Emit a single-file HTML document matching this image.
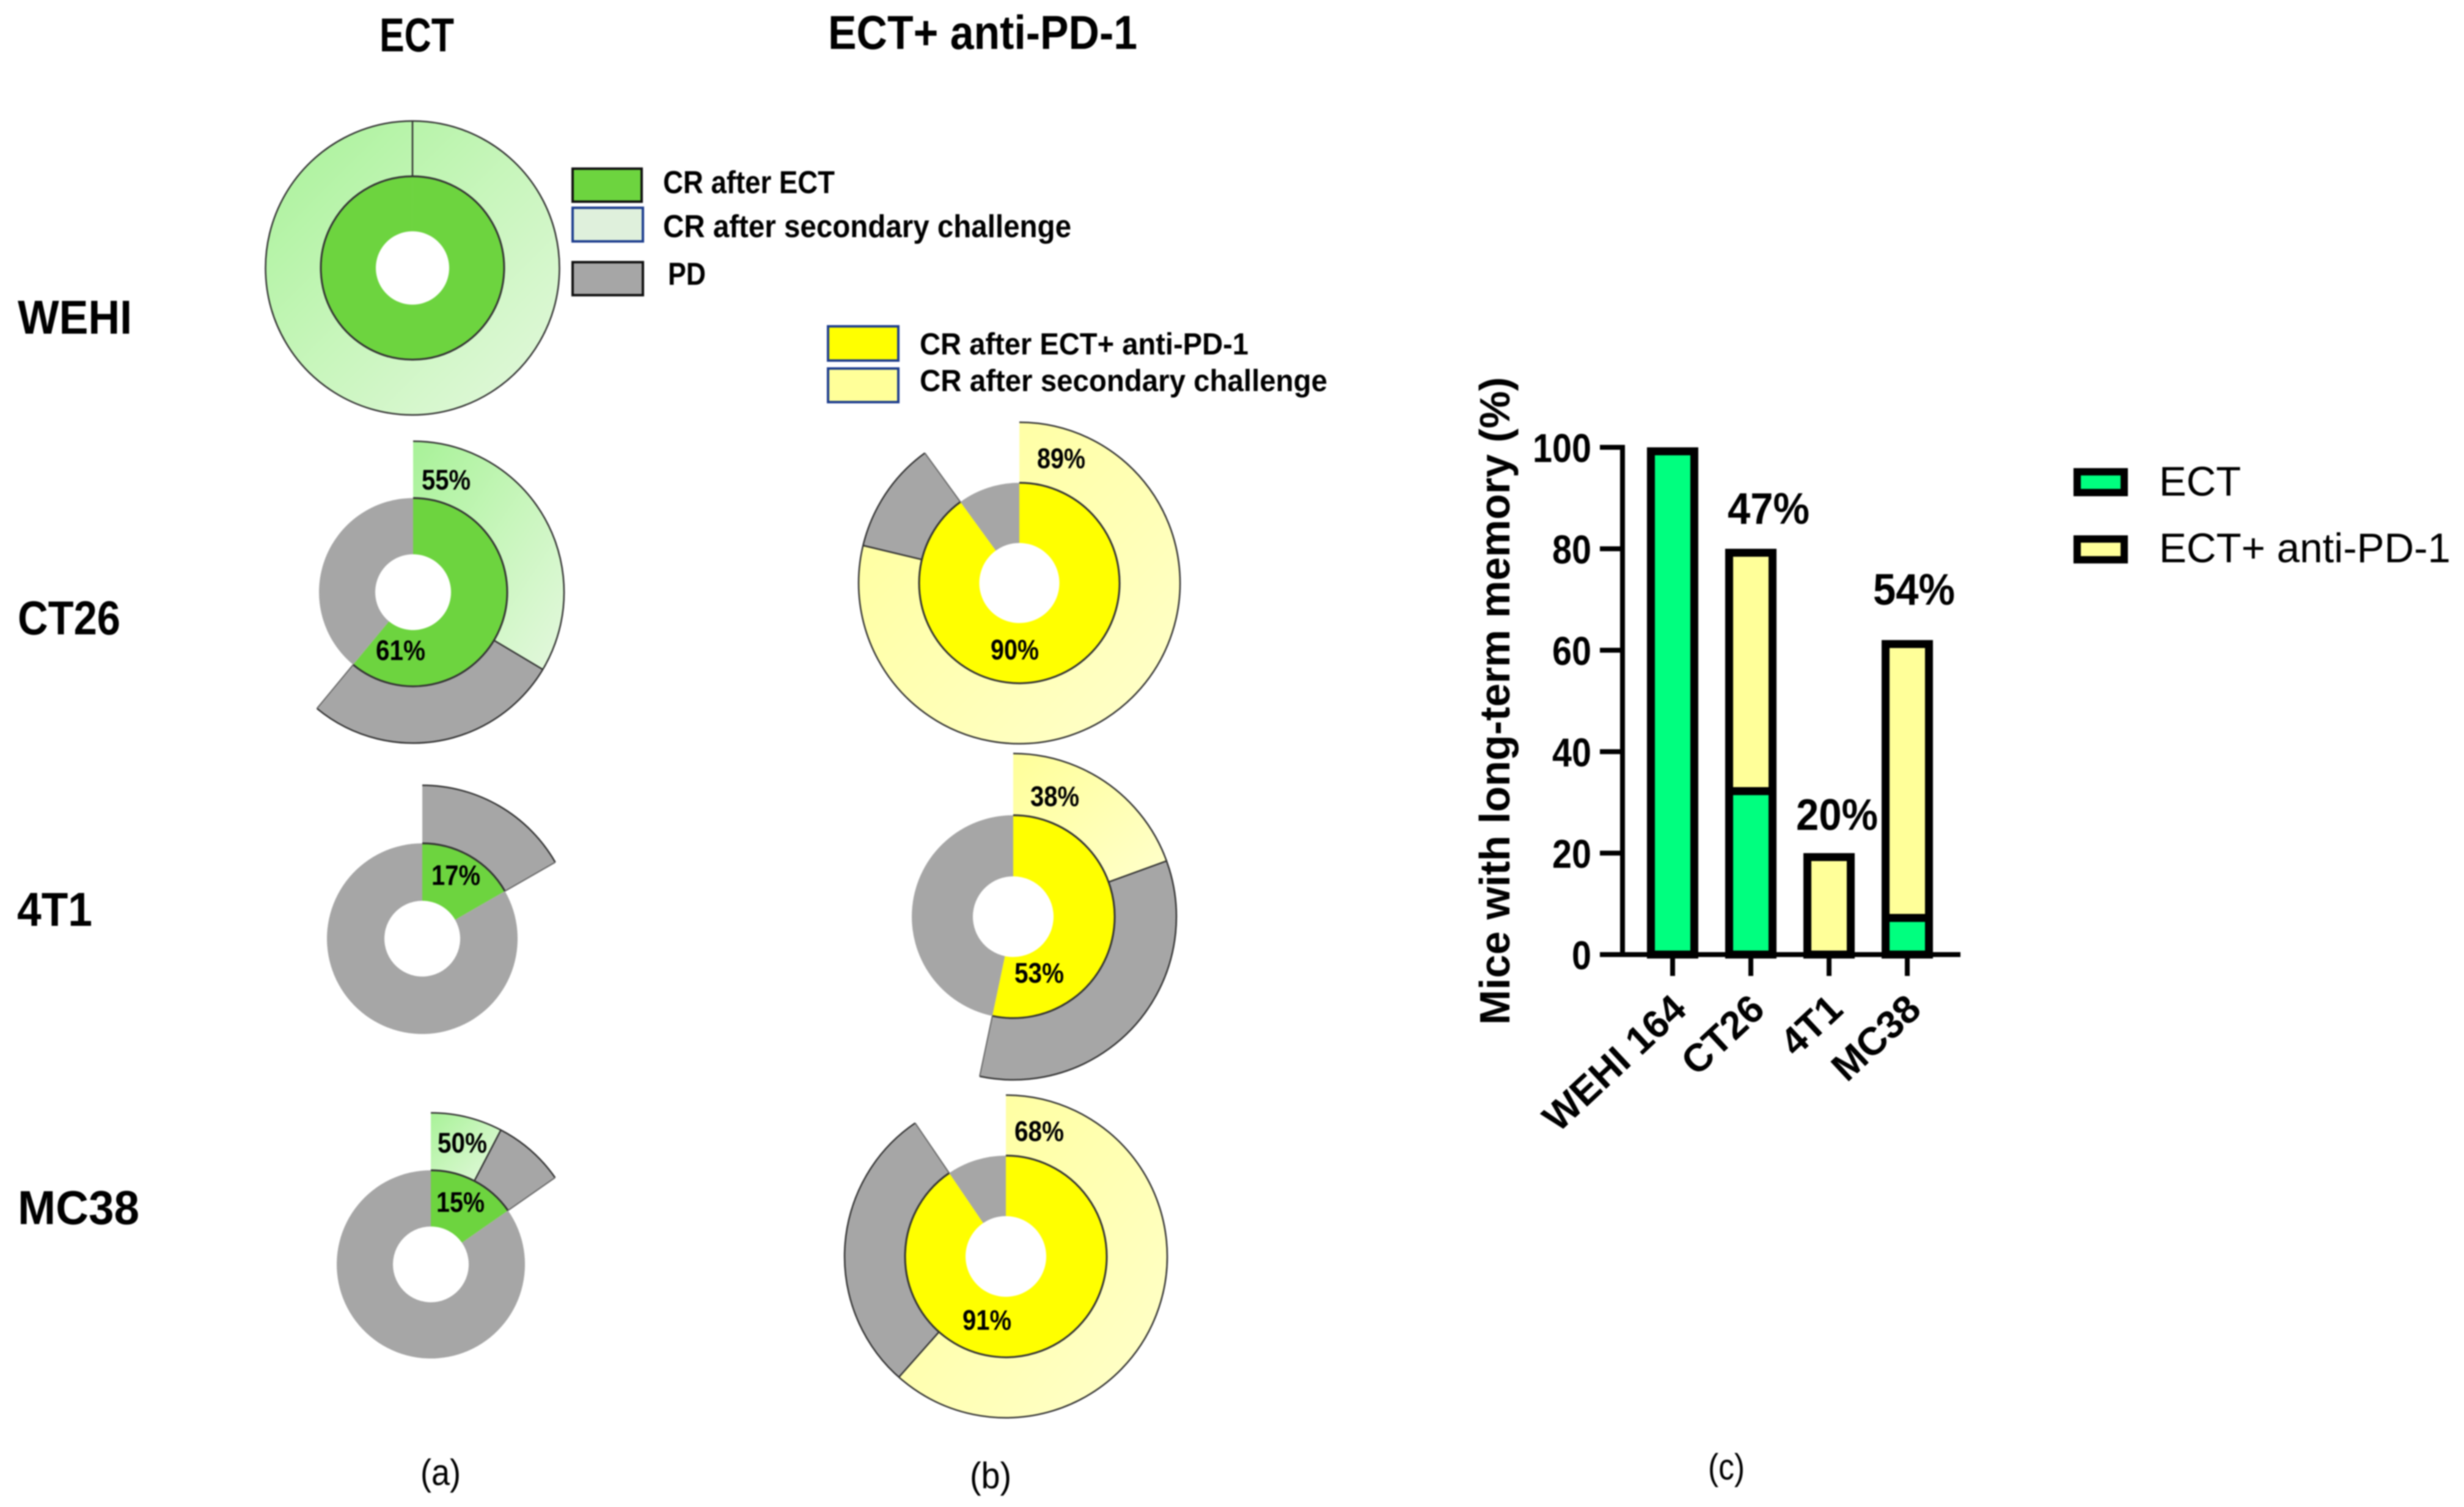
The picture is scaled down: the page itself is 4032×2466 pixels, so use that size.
<!DOCTYPE html>
<html lang="en">
<head>
<meta charset="utf-8">
<title>Response to ECT and ECT + anti-PD-1 with long-term memory</title>
<style>
html,body{margin:0;padding:0;background:#fff;}
svg{display:block;filter:blur(1px);}
text{font-family:"Liberation Sans",Arial,sans-serif;fill:#000;}
.cal{font-weight:bold;}
</style>
</head>
<body>
<svg id="figure" xmlns="http://www.w3.org/2000/svg" width="4032" height="2466" viewBox="0 0 4032 2466">
  <defs>
    <linearGradient id="greenGrad" x1="0" y1="0" x2="1" y2="1">
      <stop offset="0" stop-color="#a8f298"/>
      <stop offset="0.5" stop-color="#c8f6bc"/>
      <stop offset="1" stop-color="#e4f8de"/>
    </linearGradient>
    <linearGradient id="yellowGrad" x1="0" y1="0" x2="1" y2="1">
      <stop offset="0" stop-color="#ffff99"/>
      <stop offset="1" stop-color="#ffffcc"/>
    </linearGradient>
  </defs>
  <rect width="4032" height="2466" fill="#fff"/>

  <text class="cal" x="621" y="84" font-size="78" textLength="122" lengthAdjust="spacingAndGlyphs">ECT</text>
  <text class="cal" x="1355" y="80" font-size="78" textLength="506" lengthAdjust="spacingAndGlyphs">ECT+ anti-PD-1</text>

  <text class="cal" x="29" y="546" font-size="78" textLength="187" lengthAdjust="spacingAndGlyphs">WEHI</text>
  <text class="cal" x="29" y="1038" font-size="78" textLength="168" lengthAdjust="spacingAndGlyphs">CT26</text>
  <text class="cal" x="28" y="1515" font-size="78" textLength="123" lengthAdjust="spacingAndGlyphs">4T1</text>
  <text class="cal" x="29" y="2003" font-size="78" textLength="199" lengthAdjust="spacingAndGlyphs">MC38</text>

  <g>
    <rect x="937" y="276" width="113" height="54" fill="#6dd43f" stroke="#111" stroke-width="4"/>
    <rect x="937" y="340" width="115" height="55" fill="#dff0dc" stroke="#1f3f8f" stroke-width="4"/>
    <rect x="937" y="429" width="115" height="54" fill="#a6a6a6" stroke="#111" stroke-width="4"/>
    <text class="cal" x="1085" y="316" font-size="52" textLength="281" lengthAdjust="spacingAndGlyphs">CR after ECT</text>
    <text class="cal" x="1085" y="388" font-size="52" textLength="668" lengthAdjust="spacingAndGlyphs">CR after secondary challenge</text>
    <text class="cal" x="1093" y="466" font-size="52" textLength="62" lengthAdjust="spacingAndGlyphs">PD</text>
  </g>

  <g>
    <rect x="1355" y="534" width="115" height="56" fill="#ffff00" stroke="#1f3f8f" stroke-width="4"/>
    <rect x="1355" y="603" width="115" height="55" fill="#ffff99" stroke="#1f3f8f" stroke-width="4"/>
    <text class="cal" x="1505" y="580" font-size="50" textLength="538" lengthAdjust="spacingAndGlyphs">CR after ECT+ anti-PD-1</text>
    <text class="cal" x="1505" y="640" font-size="50" textLength="667" lengthAdjust="spacingAndGlyphs">CR after secondary challenge</text>
  </g>

  <g id="donuts"></g>
  <g id="bars"></g>

  <g>
    <rect x="3399" y="772" width="77" height="34" fill="#00ff7f" stroke="#000" stroke-width="12"/>
    <rect x="3399" y="882" width="77" height="34" fill="#ffff99" stroke="#000" stroke-width="12"/>
    <text x="3533" y="811" font-size="68" textLength="134" lengthAdjust="spacingAndGlyphs">ECT</text>
    <text x="3533" y="920" font-size="68" textLength="477" lengthAdjust="spacingAndGlyphs">ECT+ anti-PD-1</text>
  </g>

  <text x="688" y="2430" font-size="60" textLength="66" lengthAdjust="spacingAndGlyphs">(a)</text>
  <text x="1587" y="2435" font-size="60" textLength="68" lengthAdjust="spacingAndGlyphs">(b)</text>
  <text x="2795" y="2421" font-size="60" textLength="60" lengthAdjust="spacingAndGlyphs">(c)</text>
</svg>

<script>
// ----- Donut data (percent of mice) -----
const donutRows = ['wehi', 'ct26', '4t1', 'mc38'];
const ectComplete = [100, 61, 16.7, 15.3];
const ectSecondary = [100, 55, 0, 50];
const ectInnerLabels = ['', '61%', '17%', '15%'];
const ectOuterLabels = ['', '55%', '', '50%'];
const comboRows = ['ct26', '4t1', 'mc38'];
const comboComplete = [90, 53.3, 90.5];
const comboSecondary = [87.5, 36.5, 68];
const comboInnerLabels = ['90%', '53%', '91%'];
const comboOuterLabels = ['89%', '38%', '68%'];

// ----- Bar data -----
const barCategories = ['WEHI 164', 'CT26', '4T1', 'MC38'];
const barEct = [100, 33, 0, 8];
const barCombo = [0, 47, 20, 54];
const barLabels = ['', '47%', '20%', '54%'];
const yTicks = [0, 20, 40, 60, 80, 100];

// ----- Layout (geometry only, separate from the data) -----
const ectLayout = [
  {cx:675, cy:438.5, r0:60, r1:150, r2:240.5},
  {cx:676, cy:969, r0:62, r1:154, r2:247, inner:[615,1080,81], outer:[690,801,80]},
  {cx:691, cy:1536, r0:62, r1:156, r2:251, inner:[706,1448,80]},
  {cx:705, cy:2069, r0:62, r1:154, r2:248, inner:[714,1983,79], outer:[716,1886,81]}
];
const comboLayout = [
  {cx:1668, cy:954, r0:65.5, r1:164, r2:263, inner:[1621,1079,79], outer:[1697,766,79]},
  {cx:1658, cy:1500, r0:66, r1:166, r2:267, inner:[1660,1608,81], outer:[1686,1319,80]},
  {cx:1646, cy:2056, r0:66, r1:165, r2:264, inner:[1575,2176,80], outer:[1660,1867,81]}
];
const barLabelNudge = [[0,0],[29,-41],[13,-38],[11,-58]];

const SVG_NS = 'http://www.w3.org/2000/svg';
const GRAY = '#a6a6a6';
const LINE = '#333333';

function make(tag, parent) {
  const el = document.createElementNS(SVG_NS, tag);
  parent.appendChild(el);
  return el;
}
function polar(cx, cy, r, deg) {
  const t = deg * Math.PI / 180;
  return [cx + r * Math.sin(t), cy - r * Math.cos(t)];
}
function arcTo(cx, cy, r, a0, a1, sweep) {
  const end = polar(cx, cy, r, a1);
  const large = Math.abs(a1 - a0) > 180 ? 1 : 0;
  return 'A' + r + ' ' + r + ' 0 ' + large + ' ' + sweep + ' ' + end[0].toFixed(2) + ' ' + end[1].toFixed(2);
}
function sectorPath(g, r0, r1, a0, a1) {
  const stop = Math.min(a1, a0 + 359.99);
  const p0 = polar(g.cx, g.cy, r1, a0);
  const p1 = polar(g.cx, g.cy, r0, stop);
  return 'M' + p0[0].toFixed(2) + ' ' + p0[1].toFixed(2) +
    arcTo(g.cx, g.cy, r1, a0, stop, 1) +
    'L' + p1[0].toFixed(2) + ' ' + p1[1].toFixed(2) +
    arcTo(g.cx, g.cy, r0, stop, a0, 0) + 'Z';
}
function arcPath(g, r, a0, a1) {
  const stop = Math.min(a1, a0 + 359.99);
  const p0 = polar(g.cx, g.cy, r, a0);
  return 'M' + p0[0].toFixed(2) + ' ' + p0[1].toFixed(2) + arcTo(g.cx, g.cy, r, a0, stop, 1);
}
function radialPath(g, r0, r1, a) {
  const p0 = polar(g.cx, g.cy, r0, a);
  const p1 = polar(g.cx, g.cy, r1, a);
  return 'M' + p0[0].toFixed(2) + ' ' + p0[1].toFixed(2) + 'L' + p1[0].toFixed(2) + ' ' + p1[1].toFixed(2);
}
function fillSector(parent, g, r0, r1, a0, a1, fill, name) {
  const el = make('path', parent);
  el.setAttribute('d', sectorPath(g, r0, r1, a0, a1));
  el.setAttribute('fill', fill);
  
  
}
function strokeLine(parent, d, width, color) {
  const el = make('path', parent);
  el.setAttribute('d', d);
  el.setAttribute('fill', 'none');
  el.setAttribute('stroke', color);
  el.setAttribute('stroke-width', width);
  
  
}
function percentLabel(parent, str, spec, name) {
  if (!str || !spec) return;
  const el = make('text', parent);
  el.textContent = str;
  el.setAttribute('class', 'cal');
  el.setAttribute('x', spec[0]);
  el.setAttribute('y', spec[1]);
  el.setAttribute('font-size', 46);
  el.setAttribute('textLength', spec[2]);
  el.setAttribute('lengthAdjust', 'spacingAndGlyphs');
  
  
}
function drawDonut(root, prefix, g, complete, secondary, innerLabel, outerLabel, crColor, gradient) {
  const group = make('g', root);
  
  
  const crEnd = complete * 3.6;
  const secEnd = crEnd * secondary / 100;
  // inner ring
  fillSector(group, g, g.r0, g.r1, 0, crEnd, crColor, prefix + '-inner-cr');
  if (complete < 100) fillSector(group, g, g.r0, g.r1, crEnd, 360, GRAY, prefix + '-inner-pd');
  // outer ring
  if (secondary > 0) fillSector(group, g, g.r1, g.r2, 0, secEnd, gradient, prefix + '-outer-secondary');
  if (secondary < 100) fillSector(group, g, g.r1, g.r2, secEnd, crEnd, GRAY, prefix + '-outer-pd');
  // outlines
  strokeLine(group, arcPath(g, g.r1, 0, crEnd), 3, LINE);
  strokeLine(group, arcPath(g, g.r2, 0, crEnd), 2.5, LINE);
  if (secondary > 0) strokeLine(group, radialPath(g, g.r1, g.r2, secEnd), 2.5, LINE);
  if (complete < 100 && secondary < 100) strokeLine(group, radialPath(g, g.r1, g.r2, crEnd), 2, '#666');
  percentLabel(group, innerLabel, g.inner, prefix + '-inner-value');
  percentLabel(group, outerLabel, g.outer, prefix + '-outer-value');
}

const donutRoot = document.getElementById('donuts');
donutRows.forEach(function (row, i) {
  drawDonut(donutRoot, 'ect-' + row, ectLayout[i], ectComplete[i], ectSecondary[i],
    ectInnerLabels[i], ectOuterLabels[i], '#6dd43f', 'url(#greenGrad)');
});
comboRows.forEach(function (row, i) {
  drawDonut(donutRoot, 'combo-' + row, comboLayout[i], comboComplete[i], comboSecondary[i],
    comboInnerLabels[i], comboOuterLabels[i], '#ffff00', 'url(#yellowGrad)');
});

// ----- Bar chart -----
const Y_ZERO = 1562;
const Y_PER_UNIT = 8.3;
const X_FIRST = 2737;
const X_STEP = 128;
const BAR_OUTER = 84;
const BAR_STROKE = 13;
function yScale(v) { return Y_ZERO - v * Y_PER_UNIT; }
function xScale(i) { return X_FIRST + i * X_STEP; }

const barRoot = document.getElementById('bars');

function barSegment(i, base, top, fill, name) {
  if (top <= base) return;
  const el = make('rect', barRoot);
  const yTop = yScale(top) + BAR_STROKE / 2;
  const yBottom = base > 0 ? yScale(base) + BAR_STROKE / 2 : yScale(0);
  el.setAttribute('x', xScale(i) - BAR_OUTER / 2 + BAR_STROKE / 2);
  el.setAttribute('y', yTop);
  el.setAttribute('width', BAR_OUTER - BAR_STROKE);
  el.setAttribute('height', yBottom - yTop);
  el.setAttribute('fill', fill);
  el.setAttribute('stroke', '#000');
  el.setAttribute('stroke-width', BAR_STROKE);
  
  
}

barCategories.forEach(function (cat, i) {
  const key = cat.toLowerCase().replace(/\s+/g, '-');
  barSegment(i, barEct[i], barEct[i] + barCombo[i], '#ffff99', 'bar-' + key + '-ect-anti-pd1');
  barSegment(i, 0, barEct[i], '#00ff7f', 'bar-' + key + '-ect');
});

// axes
const yAxis = make('line', barRoot);
yAxis.setAttribute('x1', 2655);
yAxis.setAttribute('x2', 2655);
yAxis.setAttribute('y1', yScale(100) - 4);
yAxis.setAttribute('y2', yScale(0) + 4);
yAxis.setAttribute('stroke', '#000');
yAxis.setAttribute('stroke-width', 8);



const xAxis = make('line', barRoot);
xAxis.setAttribute('x1', 2618);
xAxis.setAttribute('x2', 3208);
xAxis.setAttribute('y1', yScale(0));
xAxis.setAttribute('y2', yScale(0));
xAxis.setAttribute('stroke', '#000');
xAxis.setAttribute('stroke-width', 8);



yTicks.forEach(function (v) {
  const tick = make('line', barRoot);
  tick.setAttribute('x1', 2618);
  tick.setAttribute('x2', 2655);
  tick.setAttribute('y1', yScale(v));
  tick.setAttribute('y2', yScale(v));
  tick.setAttribute('stroke', '#000');
  tick.setAttribute('stroke-width', 8);
  
  

  const label = make('text', barRoot);
  label.textContent = String(v);
  label.setAttribute('x', 2604);
  label.setAttribute('y', yScale(v) + 24);
  label.setAttribute('text-anchor', 'end');
  label.setAttribute('font-size', 66);
  label.setAttribute('font-weight', 'bold');
  label.setAttribute('textLength', String(v).length * 32);
  label.setAttribute('lengthAdjust', 'spacingAndGlyphs');
  
  
});

barCategories.forEach(function (cat, i) {
  const key = cat.toLowerCase().replace(/\s+/g, '-');
  const tick = make('line', barRoot);
  tick.setAttribute('x1', xScale(i));
  tick.setAttribute('x2', xScale(i));
  tick.setAttribute('y1', yScale(0));
  tick.setAttribute('y2', 1597);
  tick.setAttribute('stroke', '#000');
  tick.setAttribute('stroke-width', 8);
  
  

  const lx = xScale(i) + 26;
  const ly = 1656;
  const label = make('text', barRoot);
  label.textContent = cat;
  label.setAttribute('x', lx);
  label.setAttribute('y', ly);
  label.setAttribute('text-anchor', 'end');
  label.setAttribute('font-size', 64);
  label.setAttribute('font-weight', 'bold');
  label.setAttribute('transform', 'rotate(-43 ' + lx + ' ' + ly + ')');
  
  

  if (barLabels[i]) {
    const value = make('text', barRoot);
    value.textContent = barLabels[i];
    value.setAttribute('x', xScale(i) + barLabelNudge[i][0]);
    value.setAttribute('y', yScale(barEct[i] + barCombo[i]) + barLabelNudge[i][1]);
    value.setAttribute('text-anchor', 'middle');
    value.setAttribute('font-size', 72);
    value.setAttribute('font-weight', 'bold');
    value.setAttribute('textLength', 134);
    value.setAttribute('lengthAdjust', 'spacingAndGlyphs');
    
    
  }
});

const yTitle = make('text', barRoot);
yTitle.textContent = 'Mice with long-term memory (%)';
yTitle.setAttribute('x', 2470);
yTitle.setAttribute('y', 1677);
yTitle.setAttribute('font-size', 70);
yTitle.setAttribute('font-weight', 'bold');
yTitle.setAttribute('textLength', 1060);
yTitle.setAttribute('lengthAdjust', 'spacingAndGlyphs');
yTitle.setAttribute('transform', 'rotate(-90 2470 1677)');


</script>
</body>
</html>
